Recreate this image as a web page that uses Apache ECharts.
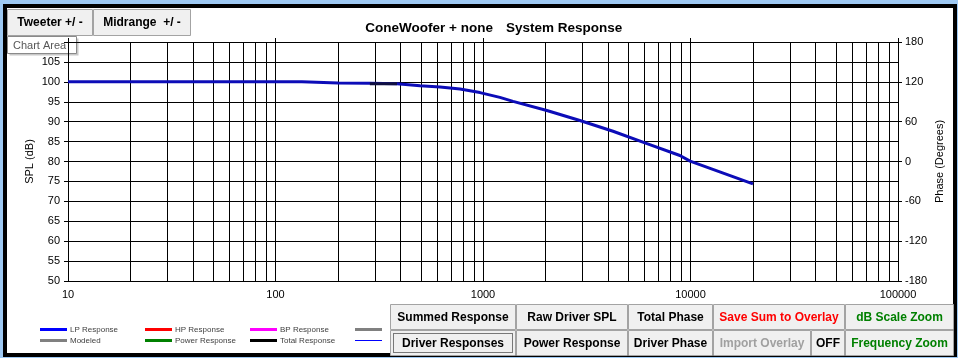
<!DOCTYPE html>
<html><head><meta charset="utf-8">
<script src="https://cdn.jsdelivr.net/npm/echarts@6/dist/echarts.min.js"></script>
<style>
html,body{margin:0;padding:0;background:#9ec9f3;overflow:hidden;}
#frame{position:absolute;left:3px;top:4px;width:946px;height:345px;border:4px solid #000;background:#fff;}
#c{position:absolute;left:0;top:0;width:958px;height:358px;}
</style>
</head><body><div id="frame"></div><div id="c"></div>
<script>
// ---- data ----
const freqHz = [10, 50, 100, 134, 136, 200, 285, 385, 497, 621, 775, 967, 1206, 1396, 2032, 2931, 4233, 6169, 8892, 9950, 20000];
const lpSpl  = [100, 100, 100, 100, 99.75, 99.72, 99.67, 99.5, 99.0, 98.7, 98.2, 97.3, 96.1, 95.1, 92.8, 90.3, 87.6, 84.5, 81.5, 80.1, 74.4];
const totalFreqHz = [285, 385];
const totalSpl = [99.55, 99.5];
const minorFreqs = [20,30,40,50,60,70,80,90, 200,300,400,500,600,700,800,900, 2000,3000,4000,5000,6000,7000,8000,9000, 20000,30000,40000,50000,60000,70000,80000,90000];
const splRange = [50, 110, 5];
const phaseRange = [-180, 180, 60];
const legendNames = ['LP Response','HP Response','BP Response','','Modeled','Power Response','Total Response',''];
const legendColors = ['#0000ff','#ff0000','#ff00ff','#808080','#808080','#008000','#000000','#0000ff'];
const titleLeft = 'ConeWoofer + none';
const titleRight = 'System Response';
const topButtons = ['Tweeter +/ -', 'Midrange  +/ -'];
const row1Buttons = ['Summed Response','Raw Driver SPL','Total Phase','Save Sum to Overlay','dB Scale Zoom'];
const row2Buttons = ['Driver Responses','Power Response','Driver Phase','Import Overlay','OFF','Frequency Zoom'];

const FONT = '"Liberation Sans", Arial, sans-serif';
const chart = echarts.init(document.getElementById('c'), null, {renderer:'canvas'});

function button(x, y, w, h, label, color, focused) {
  const ch = [
    {type:'rect', shape:{x:x+0.5, y:y+0.5, width:w-1, height:h-1}, style:{fill:'#f0f0f0', stroke:'#a3a3a3', lineWidth:1}},
    {type:'text', x:x+w/2, y:y+h/2+0.5, style:{text:label, fill:color, font:'bold 12px '+FONT, align:'center', verticalAlign:'middle', textAlign:'center', textVerticalAlign:'middle'}}
  ];
  if (focused) {
    ch.splice(1, 0, {type:'rect', shape:{x:x+3.5, y:y+3.5, width:w-7, height:h-7}, style:{fill:'none', stroke:'#000', lineWidth:1, lineDash:[1,1]}});
  }
  return {type:'group', z:50, children:ch};
}

const graphics = [];
// title
graphics.push({type:'text', x:493, y:28.5, z:50, style:{text:titleLeft, fill:'#000', font:'bold 13.5px '+FONT, align:'right', verticalAlign:'middle', textAlign:'right', textVerticalAlign:'middle'}});
graphics.push({type:'text', x:506, y:28.5, z:50, style:{text:titleRight, fill:'#000', font:'bold 13.5px '+FONT, align:'left', verticalAlign:'middle', textAlign:'left', textVerticalAlign:'middle'}});
// top buttons
graphics.push(button(7, 9, 86, 27, topButtons[0], '#000'));
graphics.push(button(93, 9, 98, 27, topButtons[1], '#000'));
// chart area tooltip
graphics.push({type:'group', z:60, children:[
  {type:'rect', shape:{x:9.5, y:38.5, width:69, height:17}, style:{fill:'#c8c8c8', stroke:'none'}},
  {type:'rect', shape:{x:7.5, y:36.5, width:69, height:17}, style:{fill:'#ffffff', stroke:'#8a8a8a', lineWidth:1}},
  {type:'text', x:13, y:45.5, style:{text:'Chart Area', fill:'#575757', font:'11px '+FONT, align:'left', verticalAlign:'middle', textAlign:'left', textVerticalAlign:'middle'}}
]});
// legend
legendNames.forEach((n, i) => {
  const col = i % 4, row = Math.floor(i / 4);
  const lx = 40 + col * 105, ly = row === 0 ? 329.5 : 340.5;
  graphics.push({type:'line', z:50, shape:{x1:lx, y1:ly, x2:lx+27, y2:ly}, style:{stroke:legendColors[i], lineWidth: i === 7 ? 1 : 3}});
  if (n) graphics.push({type:'text', z:50, x:lx+30, y:ly, style:{text:n, fill:'#404040', font:'8px '+FONT, align:'left', verticalAlign:'middle', textAlign:'left', textVerticalAlign:'middle'}});
});
// bottom buttons
const r1 = [[390,126],[516,112],[628,85],[713,132],[845,109]];
const r1c = ['#000','#000','#000','#ff0000','#008000'];
row1Buttons.forEach((t,i)=>graphics.push(button(r1[i][0], 304, r1[i][1], 26, t, r1c[i])));
const r2 = [[390,126],[516,112],[628,85],[713,98],[811,34],[845,109]];
const r2c = ['#000','#000','#000','#a0a0a0','#000','#008000'];
row2Buttons.forEach((t,i)=>graphics.push(button(r2[i][0], 330, r2[i][1], 26, t, r2c[i], i===0)));

const axisFont = {color:'#000', fontSize:11, fontFamily:FONT};

chart.setOption({
  animation:false,
  backgroundColor:'transparent',
  grid:{left:68, right:60, top:42, bottom:77, containLabel:false},
  xAxis:[
    {type:'log', logBase:10, min:10, max:100000, position:'bottom',
     axisLine:{show:true, lineStyle:{color:'#000', width:1}},
     axisTick:{show:false},
     axisLabel:Object.assign({margin:8, formatter:v => String(Math.round(v))}, axisFont),
     splitLine:{show:true, lineStyle:{color:'#000', width:1}}},
    {type:'log', logBase:10, min:10, max:100000, position:'top',
     axisLine:{show:true, lineStyle:{color:'#000', width:1}},
     axisTick:{show:true, length:4, lineStyle:{color:'#000'}},
     axisLabel:{show:false}, splitLine:{show:false}}
  ],
  yAxis:[
    {type:'value', min:splRange[0], max:splRange[1], interval:splRange[2], position:'left',
     name:'SPL (dB)', nameLocation:'middle', nameGap:33, nameMoveOverlap:false, nameTextStyle:axisFont,
     axisLine:{show:true, lineStyle:{color:'#000'}},
     axisTick:{show:true, length:4, lineStyle:{color:'#000'}},
     axisLabel:Object.assign({margin:8, formatter:v => v === splRange[1] ? '' : String(v)}, axisFont),
     splitLine:{show:true, lineStyle:{color:'#000', width:1}}},
    {type:'value', min:phaseRange[0], max:phaseRange[1], interval:phaseRange[2], position:'right',
     name:'Phase (Degrees)', nameLocation:'middle', nameGap:36, nameMoveOverlap:false, nameTextStyle:axisFont,
     axisLine:{show:true, lineStyle:{color:'#000'}},
     axisTick:{show:true, length:4, lineStyle:{color:'#000'}},
     axisLabel:Object.assign({margin:7}, axisFont),
     splitLine:{show:false}}
  ],
  series:[
    {type:'custom', name:'minor grid', silent:true, z:1, xAxisIndex:0, yAxisIndex:0,
     data:minorFreqs.map(f => [f, splRange[0]]),
     renderItem:(params, api) => {
       const p1 = api.coord([api.value(0), splRange[1]]);
       const p2 = api.coord([api.value(0), splRange[0]]);
       const x = Math.round(p1[0]) + 0.5;
       return {type:'line', shape:{x1:x, y1:p1[1], x2:x, y2:p2[1]}, style:{stroke:'#000', lineWidth:1}};
     }},
    {type:'line', name:'LP Response', z:4, symbol:'none', smooth:false,
     data:freqHz.map((f,i)=>[f, lpSpl[i]]),
     lineStyle:{color:'#0c0cb8', width:3}, itemStyle:{color:'#0c0cb8'}},
    {type:'line', name:'Total Response', z:5, symbol:'none',
     data:totalFreqHz.map((f,i)=>[f, totalSpl[i]]),
     lineStyle:{color:'#101040', width:3}}
  ],
  graphic:graphics
});
</script>
</body></html>
